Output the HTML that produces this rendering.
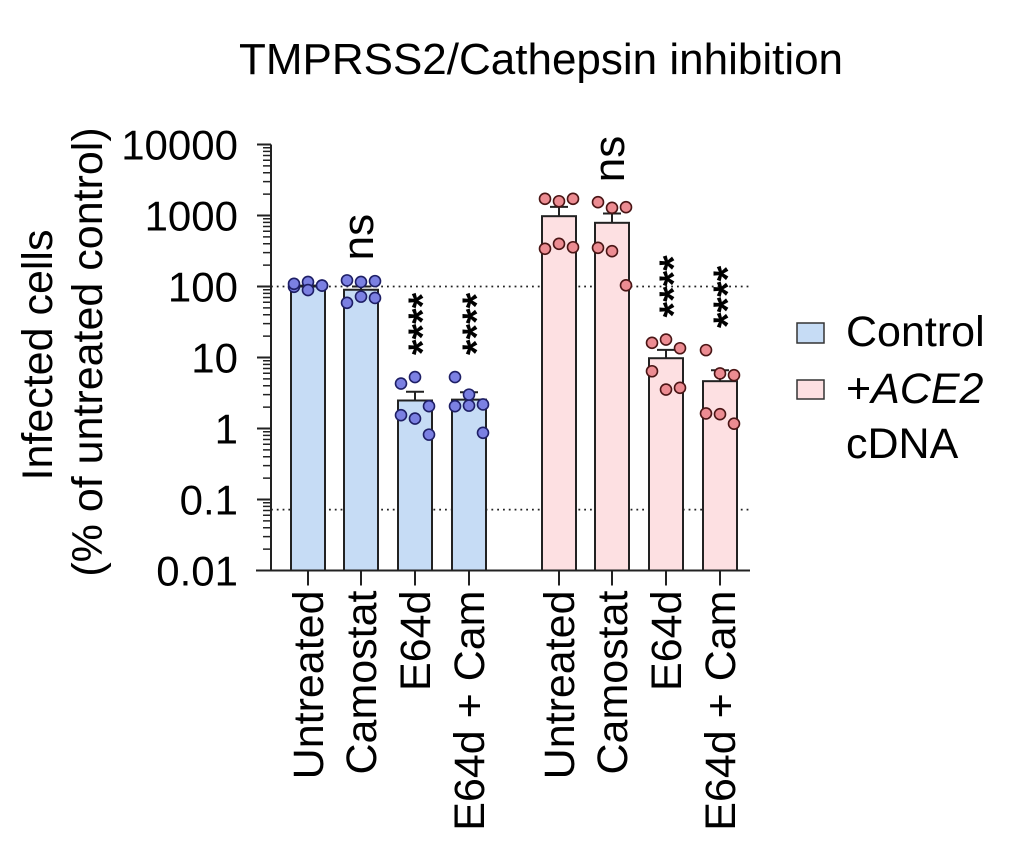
<!DOCTYPE html>
<html><head><meta charset="utf-8"><style>
body{margin:0;background:#fff}
svg{display:block;font-family:"Liberation Sans",Arial,sans-serif}
</style></head><body>
<svg id="chart" width="1034" height="866" viewBox="0 0 1034 866">
<text x="541" y="74" font-size="44" text-anchor="middle">TMPRSS2/Cathepsin inhibition</text>
<text transform="translate(52,355) rotate(-90)" font-size="43" text-anchor="middle">Infected cells</text>
<text transform="translate(102,352) rotate(-90)" font-size="43" text-anchor="middle">(% of untreated control)</text>
<g id="plot"></g>
<g>
<rect x="797" y="323" width="27" height="20" fill="#c6dcf5" stroke="#333" stroke-width="1.5"/>
<text x="846" y="346" font-size="43">Control</text>
<rect x="797" y="380" width="27" height="19" fill="#fde0e2" stroke="#333" stroke-width="1.5"/>
<text x="846" y="403" font-size="43">+<tspan font-style="italic">ACE2</tspan></text>
<text x="846" y="458" font-size="43">cDNA</text>
</g>
</svg>
<script>
const categories=["Untreated","Camostat","E64d","E64d + Cam","Untreated","Camostat","E64d","E64d + Cam"];
const groups=["control","control","control","control","ace2","ace2","ace2","ace2"];
const means=[100,90,2.48,2.55,978,789,9.77,4.64];
const errTops=[103,100,3.29,3.24,1325,1067,12.8,6.6];
const points=[
 [99,116,103,109,89,103],
 [122,116,119,59,72,69],
 [4.3,5.3,2.06,1.54,1.38,0.82],
 [5.3,3.0,2.18,2.06,2.1,0.87],
 [1718,1588,1718,340,399,357],
 [1538,1282,1309,351,314,104],
 [16.1,17.9,13.5,6.4,3.54,3.74],
 [12.7,5.96,5.64,1.63,1.59,1.17]];
const sigLabels=["","ns","****","****","","ns","****","****"];
const yTicks=[0.01,0.1,1,10,100,1000,10000];
const yTickLabels=["0.01","0.1","1","10","100","1000","10000"];
const refLines=[100,0.072];

const NS="http://www.w3.org/2000/svg";
const plot=document.getElementById('plot');
const y0=570.5,decade=71,axX=271,xEnd=750;
function yScale(v){return y0-(Math.log10(v)+2)*decade;}
const barCenters=[308,361,415,469,559,612,666,720];
function xScale(i){return barCenters[i];}
const barW=34;
const fills={control:"#c6dcf5",ace2:"#fde0e2"};
const dotFill={control:"#7b80e2",ace2:"#ec8c92"};
const dotStroke={control:"#1e1f66",ace2:"#4a1515"};
function mk(tag,attrs){const e=document.createElementNS(NS,tag);for(const k in attrs)e.setAttribute(k,attrs[k]);plot.appendChild(e);return e;}

refLines.forEach((v,i)=>{
 const l=mk('line',{x1:axX,x2:xEnd,y1:yScale(v),y2:yScale(v),stroke:"#222","stroke-width":1.8,"stroke-dasharray":"1.8 4"});
 
 
});
categories.forEach((c,i)=>{
 const g=groups[i],cx=xScale(i);
 const r=mk('rect',{x:cx-barW/2,y:yScale(means[i]),width:barW,height:y0-yScale(means[i]),fill:fills[g],stroke:"#222","stroke-width":2});
 
 
 const e=mk('path',{d:`M${cx} ${yScale(means[i])}V${yScale(errTops[i])}M${cx-9} ${yScale(errTops[i])}H${cx+9}`,stroke:"#222","stroke-width":2,fill:"none"});
 
 
});
points.forEach((arr,i)=>{
 const g=groups[i],cx=xScale(i);
 arr.forEach((v,k)=>{
  const off=[-14,0,14,-14,0,14][k];
  const d=mk('circle',{cx:cx+off,cy:yScale(v),r:5.5,fill:dotFill[g],stroke:dotStroke[g],"stroke-width":1.6});
  
  
 });
});
sigLabels.forEach((s,i)=>{
 if(!s)return;
 const cx=xScale(i);
 const base=Math.max(...points[i],errTops[i]);
 const yy=yScale(base)-22;
 let t;
 if(s==="ns"){
  t=mk('text',{transform:`translate(${cx+12},${yy+2}) rotate(-90)`,"font-size":44});
 }else{
  t=mk('text',{transform:`translate(${cx+21},${yy}) rotate(-90)`,"font-size":40,"font-weight":"bold"});
 }
 t.textContent=s;
 
 
});
const ya=mk('line',{x1:axX,x2:axX,y1:yScale(10000),y2:y0+1,stroke:"#222","stroke-width":2});


const xa=mk('line',{x1:256,x2:xEnd,y1:y0,y2:y0,stroke:"#222","stroke-width":2});


yTicks.forEach((v,i)=>{
 const y=yScale(v);
 const t=mk('line',{x1:257,x2:axX,y1:y,y2:y,stroke:"#222","stroke-width":2});
 
 
 const lb=mk('text',{x:238,y:y+15,"font-size":42,"text-anchor":"end"});
 lb.textContent=yTickLabels[i];
 
 
 if(i<yTicks.length-1){
  for(let m=2;m<=9;m++){
   const ym=yScale(v*m);
   const mt=mk('line',{x1:263,x2:axX,y1:ym,y2:ym,stroke:"#222","stroke-width":1.5});
   
   
  }
 }
});
categories.forEach((c,i)=>{
 const cx=xScale(i);
 const t=mk('line',{x1:cx,x2:cx,y1:y0,y2:y0+15,stroke:"#222","stroke-width":2});
 
 
 const lb=mk('text',{transform:`translate(${cx+15},${y0+20}) rotate(-90)`,"font-size":43,"text-anchor":"end"});
 lb.textContent=c;
 
 
});
</script>
</body></html>
